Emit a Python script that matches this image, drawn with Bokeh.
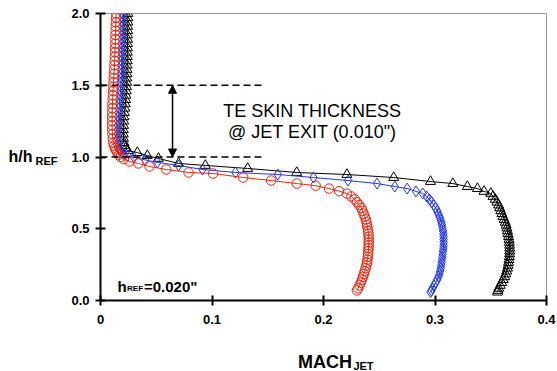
from bokeh.plotting import figure
from bokeh.layouts import row, column
from bokeh.models import Range1d, Label, Arrow, NormalHead, FixedTicker
from bokeh.embed import file_html
from bokeh.resources import INLINE

# ---------------- data ----------------
h_red = [2.00, 1.97, 1.94, 1.91, 1.88, 1.85, 1.82, 1.79, 1.76, 1.73, 1.70, 1.67, 1.64, 1.61,
         1.58, 1.55, 1.52, 1.49, 1.46, 1.43, 1.40, 1.37, 1.34, 1.31, 1.28, 1.25, 1.22, 1.19,
         1.16, 1.13, 1.10, 1.08, 1.06, 1.045, 1.03, 1.015,
         1.000, 0.985, 0.969, 0.955, 0.934, 0.913, 0.892, 0.885, 0.857, 0.836, 0.815, 0.800,
         0.780, 0.762, 0.745, 0.725,
         0.705, 0.685, 0.665, 0.645, 0.625, 0.605, 0.585, 0.565, 0.545, 0.525, 0.505, 0.485,
         0.465, 0.445, 0.425, 0.405, 0.385, 0.365, 0.345, 0.325, 0.305, 0.285, 0.265, 0.245,
         0.225, 0.205, 0.185, 0.165, 0.145, 0.125, 0.105, 0.085, 0.070]
mach_red = [0.0140, 0.0140, 0.0138, 0.0137, 0.0136, 0.0135, 0.0134, 0.0133, 0.0131, 0.0130,
            0.0128, 0.0127, 0.0125, 0.0123, 0.0121, 0.0119, 0.0117, 0.0115, 0.0113, 0.0111,
            0.0109, 0.0107, 0.0106, 0.0105, 0.0104, 0.0104, 0.0104, 0.0105, 0.0107, 0.0110,
            0.0115, 0.0122, 0.0130, 0.0140, 0.0152, 0.0165,
            0.0180, 0.0210, 0.0260, 0.0340, 0.0440, 0.0590, 0.0790, 0.1010, 0.1280, 0.1530,
            0.1760, 0.1930, 0.2050, 0.2140, 0.2210, 0.2250,
            0.2280, 0.2300, 0.2320, 0.2340, 0.2350, 0.2360, 0.2370, 0.2380, 0.2385, 0.2390,
            0.2395, 0.2400, 0.2403, 0.2405, 0.2406, 0.2406, 0.2405, 0.2404, 0.2402, 0.2400,
            0.2397, 0.2394, 0.2390, 0.2385, 0.2378, 0.2370, 0.2362, 0.2354, 0.2345, 0.2335,
            0.2322, 0.2310, 0.2300]

h_blue = [2.00, 1.97, 1.94, 1.91, 1.88, 1.85, 1.82, 1.79, 1.76, 1.73, 1.70, 1.67, 1.64, 1.61,
          1.58, 1.55, 1.52, 1.49, 1.46, 1.43, 1.40, 1.37, 1.34, 1.31, 1.28, 1.25, 1.22, 1.19,
          1.16, 1.13, 1.10, 1.08, 1.06, 1.045, 1.03,
          1.020, 1.010, 0.997, 0.980, 0.962, 0.941, 0.913, 0.892, 0.878, 0.857, 0.836, 0.815,
          0.794, 0.780, 0.760, 0.746,
          0.725, 0.705, 0.685, 0.665, 0.645, 0.625, 0.605, 0.585, 0.565, 0.545, 0.525, 0.505,
          0.485, 0.465, 0.445, 0.425, 0.405, 0.385, 0.365, 0.345, 0.325, 0.305, 0.285, 0.265,
          0.245, 0.225, 0.205, 0.185, 0.165, 0.145, 0.125, 0.105, 0.085, 0.070, 0.058]
mach_blue = [0.0195, 0.0195, 0.0194, 0.0194, 0.0193, 0.0193, 0.0192, 0.0191, 0.0191, 0.0190,
             0.0189, 0.0188, 0.0188, 0.0187, 0.0186, 0.0185, 0.0183, 0.0181, 0.0179, 0.0176,
             0.0173, 0.0170, 0.0166, 0.0162, 0.0159, 0.0157, 0.0155, 0.0154, 0.0154, 0.0155,
             0.0158, 0.0162, 0.0168, 0.0176, 0.0186,
             0.0210, 0.0240, 0.0300, 0.0400, 0.0510, 0.0700, 0.0915, 0.1210, 0.1590, 0.1910,
             0.2220, 0.2480, 0.2640, 0.2750, 0.2830, 0.2890,
             0.2925, 0.2950, 0.2970, 0.2990, 0.3005, 0.3020, 0.3030, 0.3040, 0.3050, 0.3057,
             0.3063, 0.3068, 0.3072, 0.3075, 0.3077, 0.3078, 0.3078, 0.3077, 0.3075, 0.3072,
             0.3069, 0.3066, 0.3063, 0.3060, 0.3056, 0.3052, 0.3046, 0.3040, 0.3031, 0.3020,
             0.3006, 0.2992, 0.2978, 0.2968, 0.2960]

h_black = [2.00, 1.97, 1.94, 1.91, 1.88, 1.85, 1.82, 1.79, 1.76, 1.73, 1.70, 1.67, 1.64, 1.61,
           1.58, 1.55, 1.52, 1.49, 1.46, 1.43, 1.40, 1.37, 1.34, 1.31, 1.28, 1.25, 1.22, 1.19,
           1.16, 1.13, 1.10, 1.08, 1.06, 1.045,
           1.031, 1.010, 0.990, 0.955, 0.941, 0.920, 0.892, 0.878, 0.857, 0.829, 0.815, 0.794,
           0.780, 0.760, 0.746,
           0.725, 0.705, 0.685, 0.665, 0.645, 0.625, 0.605, 0.585, 0.565, 0.545, 0.525, 0.505,
           0.485, 0.465, 0.445, 0.425, 0.405, 0.385, 0.365, 0.345, 0.325, 0.305, 0.285, 0.265,
           0.245, 0.225, 0.205, 0.185, 0.165, 0.145, 0.125, 0.105, 0.085, 0.070, 0.058]
mach_black = [0.0245, 0.0245, 0.0245, 0.0244, 0.0244, 0.0243, 0.0243, 0.0242, 0.0242, 0.0241,
              0.0240, 0.0240, 0.0239, 0.0238, 0.0237, 0.0236, 0.0235, 0.0233, 0.0231, 0.0228,
              0.0225, 0.0222, 0.0218, 0.0214, 0.0210, 0.0208, 0.0206, 0.0205, 0.0205, 0.0206,
              0.0210, 0.0216, 0.0225, 0.0245,
              0.0330, 0.0420, 0.0520, 0.0700, 0.0940, 0.1320, 0.1760, 0.2210, 0.2630, 0.2960,
              0.3160, 0.3290, 0.3380, 0.3440, 0.3500,
              0.3520, 0.3540, 0.3555, 0.3570, 0.3580, 0.3590, 0.3600, 0.3610, 0.3620, 0.3630,
              0.3638, 0.3645, 0.3650, 0.3655, 0.3660, 0.3664, 0.3667, 0.3669, 0.3670, 0.3670,
              0.3669, 0.3667, 0.3664, 0.3660, 0.3655, 0.3650, 0.3643, 0.3635, 0.3625, 0.3612,
              0.3598, 0.3585, 0.3572, 0.3565, 0.3560]

x_ticks = [0, 0.1, 0.2, 0.3, 0.4]
x_tick_labels = ["0", "0.1", "0.2", "0.3", "0.4"]
y_ticks = [0.0, 0.5, 1.0, 1.5, 2.0]
y_tick_labels = ["0.0", "0.5", "1.0", "1.5", "2.0"]

# annotation geometry (skin thickness markers)
dash_levels = [1.5, 1.0]
dash_x_end = 0.145
arrow_x = 0.0646

RED = "#e8260f"
BLUE = "#2336e6"
BLACK = "#000000"
FONT = "Liberation Sans"

LEFT_W = 65
BOTTOM_H = 36
TOTAL_W, TOTAL_H = 557, 371

p = figure(width=TOTAL_W - LEFT_W, height=TOTAL_H - BOTTOM_H, output_backend="svg",
           toolbar_location=None, x_range=Range1d(0, 0.4), y_range=Range1d(0, 2.0),
           min_border_left=35, min_border_right=11, min_border_top=13, min_border_bottom=35)
p.background_fill_color = "white"
p.border_fill_color = "white"
p.outline_line_color = "#9a9a9a"
p.outline_line_width = 1
p.xgrid.visible = False
p.ygrid.visible = False

for ax, ticks, labels in ((p.xaxis[0], x_ticks, x_tick_labels), (p.yaxis[0], y_ticks, y_tick_labels)):
    ax.ticker = FixedTicker(ticks=ticks)
    ax.major_label_overrides = {t: l for t, l in zip(ticks, labels)}
    ax.major_tick_in = 5
    ax.major_tick_out = 5
    ax.minor_tick_line_color = None
    ax.axis_line_width = 2
    ax.major_tick_line_width = 2
    ax.axis_line_color = "black"
    ax.major_tick_line_color = "black"
    ax.major_label_text_font = FONT
    ax.major_label_text_font_style = "bold"
    ax.major_label_text_font_size = "13px"
    ax.major_label_text_color = "black"
p.xaxis.major_label_standoff = 9
p.yaxis.major_label_standoff = 6

# series
p.line(mach_black, h_black, line_color=BLACK, line_width=1)
p.scatter(mach_black, h_black, marker="triangle", size=10, fill_color=None,
          line_color=BLACK, line_width=1)
p.line(mach_blue, h_blue, line_color=BLUE, line_width=1)
p.scatter(mach_blue, h_blue, marker="diamond", size=11, fill_color=None,
          line_color=BLUE, line_width=1)
p.line(mach_red, h_red, line_color=RED, line_width=1)
p.scatter(mach_red, h_red, marker="circle", size=9.5, fill_color=None,
          line_color=RED, line_width=1)

# skin-thickness annotation
p.segment(x0=[0, 0], y0=dash_levels, x1=[dash_x_end, dash_x_end], y1=dash_levels,
          line_color="black", line_width=1.5, line_dash="7 4")
p.add_layout(Arrow(start=NormalHead(size=8, fill_color="black", line_color="black"),
                   end=NormalHead(size=8, fill_color="black", line_color="black"),
                   x_start=arrow_x, y_start=dash_levels[1], x_end=arrow_x, y_end=dash_levels[0],
                   line_width=1.5, line_color="black"))


def lab(fig, x, y, text, size, bold=True, align="left", baseline="alphabetic"):
    fig.add_layout(Label(x=x, y=y, text=text, text_font=FONT, text_font_size=size,
                         text_font_style="bold" if bold else "normal", text_color="black",
                         text_align=align, text_baseline=baseline))


lab(p, 0.190, 1.324, "TE SKIN THICKNESS", "18px", bold=False, align="center", baseline="middle")
lab(p, 0.190, 1.171, "@ JET EXIT (0.010\")", "18px", bold=False, align="center", baseline="middle")

lab(p, 0.0152, 0.0976, "h", "15px")
lab(p, 0.0238, 0.0836, "REF", "8px")
lab(p, 0.0390, 0.0976, "=0.020\"", "15px")


def blank(w, h, x0, x1, y0, y1):
    f = figure(width=w, height=h, output_backend="svg", toolbar_location=None,
               x_range=Range1d(x0, x1), y_range=Range1d(y0, y1),
               min_border=0, min_border_left=0, min_border_right=0,
               min_border_top=0, min_border_bottom=0)
    f.axis.visible = False
    f.grid.visible = False
    f.outline_line_color = None
    f.background_fill_color = "white"
    f.border_fill_color = "white"
    return f


# left panel: page-pixel coordinates (y measured upward from page bottom)
left = blank(LEFT_W, TOTAL_H, 0, LEFT_W, 0, TOTAL_H)
lab(left, 8, TOTAL_H - 156, "h/h", "16px")
lab(left, 35, TOTAL_H - 160, "REF", "11px")

# bottom panel
bottom = blank(TOTAL_W - LEFT_W, BOTTOM_H, LEFT_W, TOTAL_W, 0, BOTTOM_H)
lab(bottom, 283, TOTAL_H - 361, "MACH", "18px")
lab(bottom, 344, TOTAL_H - 365, "JET", "11px")

layout = row(left, column(p, bottom, spacing=0), spacing=0)

open("out.html", "w").write(file_html(layout, INLINE))
